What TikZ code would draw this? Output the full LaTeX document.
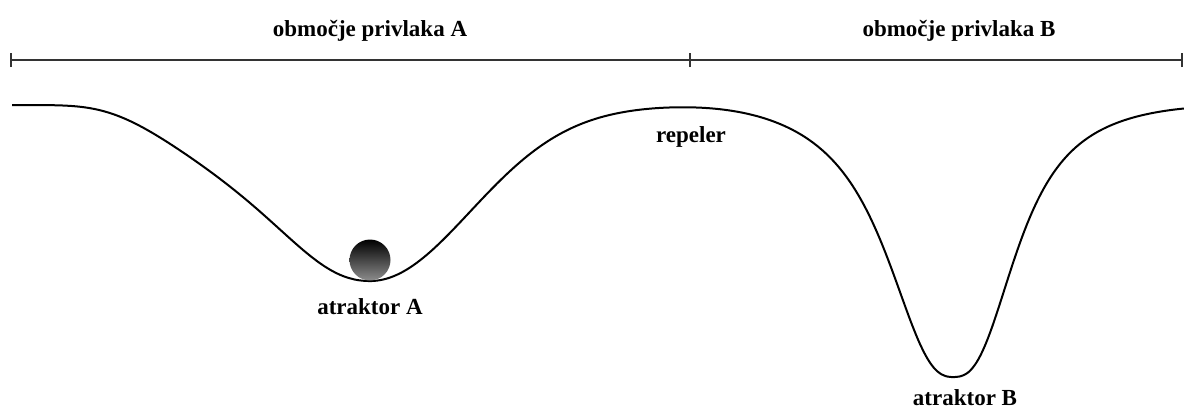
\documentclass[tikz,border=0pt]{standalone}
\usepackage{fontspec}
\setmainfont{Liberation Serif}
\usetikzlibrary{arrows.meta}
\begin{document}
\begin{tikzpicture}[x=1pt,y=-1pt,
  declare function={
    wAl(\e) = exp(-min(30,(\e/245)^6))/(1+(\e/135)^2.2);
    wAr(\e) = exp(-min(30,0.5*(\e/100)^2));
    gA(\x)  = (\x<370) ? (wAl(abs(\x-370)+0.01)) : (wAr(abs(\x-370)+0.01));
    wBl(\e) = exp(-min(30,(\e/218)^4))/(1+(\e/73)^2.5);
    wBr(\e) = exp(-min(30,(\e/230)^4))/(1+(\e/68)^2.7);
    gB(\x)  = (\x<953) ? (wBl(abs(\x-953)+0.01)) : (wBr(abs(\x-953)+0.01));
  },
  lbl/.style={font=\fontsize{23}{26}\selectfont\bfseries, anchor=base, inner sep=0pt},
  axisline/.style={line width=1.2pt, draw=black!80},
  tick/.style={line width=1.6pt, draw=black!80},
  landscape/.style={line width=2pt, draw=black, line join=round}]
\useasboundingbox (0,0) rectangle (1184,410);
% axis
\coordinate (L) at (11,60);
\coordinate (M) at (690,60);
\coordinate (R) at (1182,60);
\draw[axisline] (L) -- (M) -- (R);
\foreach \p in {L,M,R} \draw[tick] ([yshift=-7pt]\p) -- ([yshift=7pt]\p);
% labels
\node[lbl] (regA) at (370,36) {območje privlaka A};
\node[lbl] (regB) at (959,36) {območje privlaka B};
\node[lbl] (rep) at (691,142) {repeler};
\node[lbl] (atA) at (370,314) {atraktor A};
\node[lbl] (atB) at (965,405) {atraktor B};
% landscape
\draw[landscape] plot[domain=12:1184, samples=600] (\x, {105 + 176*gA(\x) + 272*gB(\x)});
% ball
\shade[top color=black, bottom color=black!45] (370,260) circle[radius=20.5];
\node[circle, minimum size=41pt, inner sep=0pt] (ball) at (370,260) {};
\end{tikzpicture}
\end{document}
